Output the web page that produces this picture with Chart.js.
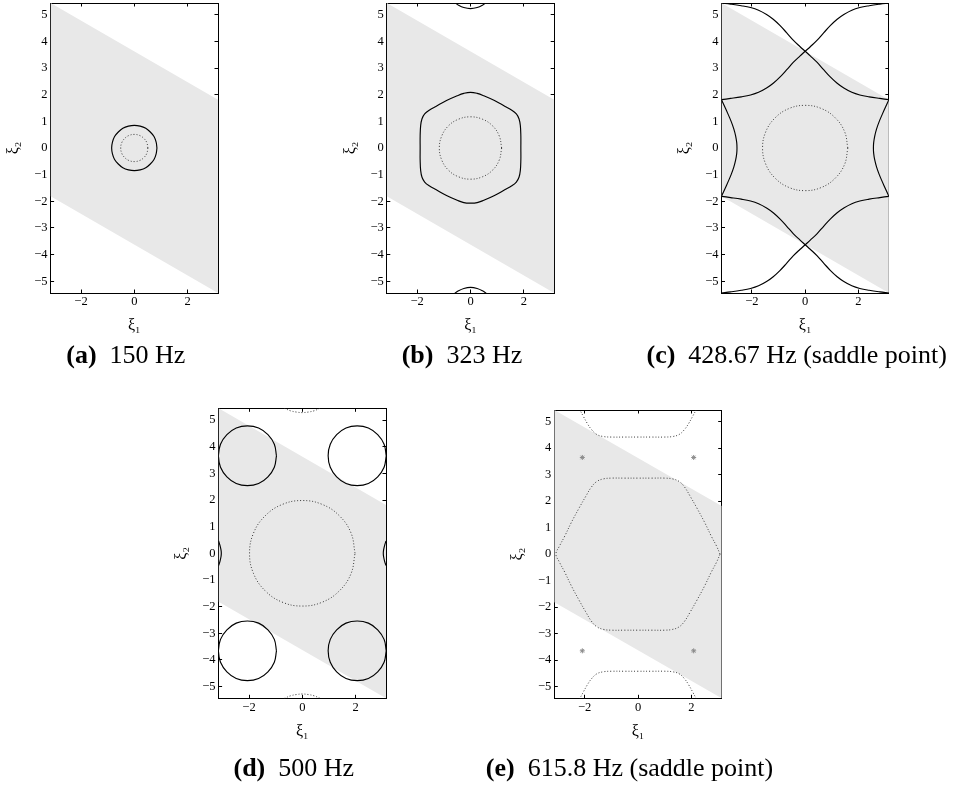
<!DOCTYPE html>
<html>
<head>
<meta charset="utf-8">
<script src="https://cdn.jsdelivr.net/npm/chart.js@4.4.0/dist/chart.umd.min.js"></script>
<style>
  html, body { margin: 0; padding: 0; background: #fff; }
  body { width: 958px; height: 790px; overflow: hidden; position: relative;
         font-family: "Liberation Serif", "Times New Roman", serif; }
  canvas { position: absolute; }
  .cap { position: absolute; font-size: 26px; line-height: 26px; white-space: nowrap;
         transform: translateX(-50%); color: #000; }
  .cap .lab { font-weight: bold; margin-right: 0.5em; }
</style>
</head>
<body>
<script>
// ---- axes (wavenumber domain) ----
const xRange = [-3.1416, 3.1416];
const yRange = [-5.4414, 5.4414];
const xTicks = [-2, 0, 2];
const yTicks = [-5, -4, -3, -2, -1, 0, 1, 2, 3, 4, 5];

// shaded unit cell (parallelogram)
const band = [[-3.1416, -1.8138], [-3.1416, 5.4414], [3.1416, 1.8138], [3.1416, -5.4414]];

// ---- (a) 150 Hz ----
const aSolid = [[0.85,0],[0.82,0.22],[0.74,0.43],[0.6,0.6],[0.43,0.74],[0.22,0.82],[0,0.85],[-0.22,0.82],[-0.43,0.74],[-0.6,0.6],[-0.74,0.43],[-0.82,0.22],[-0.85,0],[-0.82,-0.22],[-0.74,-0.43],[-0.6,-0.6],[-0.43,-0.74],[-0.22,-0.82],[0,-0.85],[0.22,-0.82],[0.43,-0.74],[0.6,-0.6],[0.74,-0.43],[0.82,-0.22],[0.85,0]];
const aDotted = [[0.51,0],[0.47,0.2],[0.36,0.36],[0.2,0.47],[0,0.51],[-0.2,0.47],[-0.36,0.36],[-0.47,0.2],[-0.51,0],[-0.47,-0.2],[-0.36,-0.36],[-0.2,-0.47],[0,-0.51],[0.2,-0.47],[0.36,-0.36],[0.47,-0.2],[0.51,0]];

// ---- (b) 323 Hz ----
const bHex = [[1.89,0],[1.89,0.45],[1.87,0.85],[1.82,1.1],[1.72,1.28],[1.55,1.42],[1.3,1.56],[0.9,1.78],[0.5,1.96],[0.25,2.05],[0,2.09],
  [-0.25,2.05],[-0.5,1.96],[-0.9,1.78],[-1.3,1.56],[-1.55,1.42],[-1.72,1.28],[-1.82,1.1],[-1.87,0.85],[-1.89,0.45],[-1.89,0],
  [-1.89,-0.45],[-1.87,-0.85],[-1.82,-1.1],[-1.72,-1.28],[-1.55,-1.42],[-1.3,-1.56],[-0.9,-1.78],[-0.5,-1.96],[-0.25,-2.05],[0,-2.07],
  [0.25,-2.05],[0.5,-1.96],[0.9,-1.78],[1.3,-1.56],[1.55,-1.42],[1.72,-1.28],[1.82,-1.1],[1.87,-0.85],[1.89,-0.45],[1.89,0]];
const bTopArc = [[-0.66,5.5],[-0.45,5.36],[-0.25,5.27],[0,5.23],[0.25,5.27],[0.45,5.36],[0.66,5.5]];
const bBottomArc = [[-0.66,-5.5],[-0.45,-5.36],[-0.25,-5.27],[0,-5.23],[0.25,-5.27],[0.45,-5.36],[0.66,-5.5]];
const bDotted = [[1.17,0],[1.08,0.45],[0.83,0.83],[0.45,1.08],[0,1.17],[-0.45,1.08],[-0.83,0.83],[-1.08,0.45],[-1.17,0],[-1.08,-0.45],[-0.83,-0.83],[-0.45,-1.08],[0,-1.17],[0.45,-1.08],[0.83,-0.83],[1.08,-0.45],[1.17,0]];

// ---- (c) 428.67 Hz, saddle point ----
const cUpperA = [[-3.1416,5.4414],[-2.8,5.4],[-2.4,5.34],[-2.05,5.27],[-1.75,5.17],[-1.45,5.01],[-1.2,4.83],[-0.95,4.6],[-0.7,4.33],[-0.45,4.05],[-0.2,3.81],[0,3.63],[0.2,3.45],[0.45,3.21],[0.7,2.93],[0.95,2.66],[1.2,2.43],[1.45,2.25],[1.75,2.09],[2.05,1.99],[2.4,1.92],[2.8,1.86],[3.1416,1.8138]];
const cUpperB = [[3.1416,5.4414],[2.8,5.4],[2.4,5.34],[2.05,5.27],[1.75,5.17],[1.45,5.01],[1.2,4.83],[0.95,4.6],[0.7,4.33],[0.45,4.05],[0.2,3.81],[0,3.63],[-0.2,3.45],[-0.45,3.21],[-0.7,2.93],[-0.95,2.66],[-1.2,2.43],[-1.45,2.25],[-1.75,2.09],[-2.05,1.99],[-2.4,1.92],[-2.8,1.86],[-3.1416,1.8138]];
const cLowerA = [[-3.1416,-5.4414],[-2.8,-5.4],[-2.4,-5.34],[-2.05,-5.27],[-1.75,-5.17],[-1.45,-5.01],[-1.2,-4.83],[-0.95,-4.6],[-0.7,-4.33],[-0.45,-4.05],[-0.2,-3.81],[0,-3.63],[0.2,-3.45],[0.45,-3.21],[0.7,-2.93],[0.95,-2.66],[1.2,-2.43],[1.45,-2.25],[1.75,-2.09],[2.05,-1.99],[2.4,-1.92],[2.8,-1.86],[3.1416,-1.8138]];
const cLowerB = [[3.1416,-5.4414],[2.8,-5.4],[2.4,-5.34],[2.05,-5.27],[1.75,-5.17],[1.45,-5.01],[1.2,-4.83],[0.95,-4.6],[0.7,-4.33],[0.45,-4.05],[0.2,-3.81],[0,-3.63],[-0.2,-3.45],[-0.45,-3.21],[-0.7,-2.93],[-0.95,-2.66],[-1.2,-2.43],[-1.45,-2.25],[-1.75,-2.09],[-2.05,-1.99],[-2.4,-1.92],[-2.8,-1.86],[-3.1416,-1.8138]];
const cLeftSide = [[-3.1416,1.8138],[-3.02,1.55],[-2.9,1.28],[-2.78,1.0],[-2.68,0.72],[-2.61,0.45],[-2.57,0.2],[-2.56,0],[-2.57,-0.2],[-2.61,-0.45],[-2.68,-0.72],[-2.78,-1.0],[-2.9,-1.28],[-3.02,-1.55],[-3.1416,-1.8138]];
const cRightSide = [[3.1416,1.8138],[3.02,1.55],[2.9,1.28],[2.78,1.0],[2.68,0.72],[2.61,0.45],[2.57,0.2],[2.56,0],[2.57,-0.2],[2.61,-0.45],[2.68,-0.72],[2.78,-1.0],[2.9,-1.28],[3.02,-1.55],[3.1416,-1.8138]];
const cDotted = [[1.6,0],[1.48,0.61],[1.13,1.13],[0.61,1.48],[0,1.6],[-0.61,1.48],[-1.13,1.13],[-1.48,0.61],[-1.6,0],[-1.48,-0.61],[-1.13,-1.13],[-0.61,-1.48],[0,-1.6],[0.61,-1.48],[1.13,-1.13],[1.48,-0.61],[1.6,0]];

// ---- (d) 500 Hz ----
const dUpLeft = [[-0.97,3.66],[-1.05,4.09],[-1.29,4.45],[-1.64,4.7],[-2.06,4.78],[-2.48,4.7],[-2.83,4.45],[-3.07,4.09],[-3.15,3.66],[-3.07,3.23],[-2.83,2.87],[-2.48,2.62],[-2.06,2.54],[-1.64,2.62],[-1.29,2.87],[-1.05,3.23],[-0.97,3.66]];
const dUpRight = [[3.15,3.66],[3.07,4.09],[2.83,4.45],[2.48,4.7],[2.06,4.78],[1.64,4.7],[1.29,4.45],[1.05,4.09],[0.97,3.66],[1.05,3.23],[1.29,2.87],[1.64,2.62],[2.06,2.54],[2.48,2.62],[2.83,2.87],[3.07,3.23],[3.15,3.66]];
const dLowLeft = [[-0.97,-3.66],[-1.05,-4.09],[-1.29,-4.45],[-1.64,-4.7],[-2.06,-4.78],[-2.48,-4.7],[-2.83,-4.45],[-3.07,-4.09],[-3.15,-3.66],[-3.07,-3.23],[-2.83,-2.87],[-2.48,-2.62],[-2.06,-2.54],[-1.64,-2.62],[-1.29,-2.87],[-1.05,-3.23],[-0.97,-3.66]];
const dLowRight = [[3.15,-3.66],[3.07,-4.09],[2.83,-4.45],[2.48,-4.7],[2.06,-4.78],[1.64,-4.7],[1.29,-4.45],[1.05,-4.09],[0.97,-3.66],[1.05,-3.23],[1.29,-2.87],[1.64,-2.62],[2.06,-2.54],[2.48,-2.62],[2.83,-2.87],[3.07,-3.23],[3.15,-3.66]];
const dLeftArc = [[-3.1416,0.46],[-3.09,0.3],[-3.05,0.12],[-3.04,0],[-3.05,-0.12],[-3.09,-0.3],[-3.1416,-0.46]];
const dRightArc = [[3.1416,0.46],[3.09,0.3],[3.05,0.12],[3.04,0],[3.05,-0.12],[3.09,-0.3],[3.1416,-0.46]];
const dDotted = [[1.98,0],[1.83,0.76],[1.4,1.4],[0.76,1.83],[0,1.98],[-0.76,1.83],[-1.4,1.4],[-1.83,0.76],[-1.98,0],[-1.83,-0.76],[-1.4,-1.4],[-0.76,-1.83],[0,-1.98],[0.76,-1.83],[1.4,-1.4],[1.83,-0.76],[1.98,0]];
const dTopDotted = [[-0.68,5.45],[-0.45,5.35],[-0.22,5.3],[0,5.28],[0.22,5.3],[0.45,5.35],[0.68,5.45]];
const dBottomDotted = [[-0.68,-5.45],[-0.45,-5.35],[-0.22,-5.3],[0,-5.28],[0.22,-5.3],[0.45,-5.35],[0.68,-5.45]];

// ---- (e) 615.8 Hz, saddle point ----
const eHex = [[3.08,0],[2.95,0.3],[2.75,0.68],[2.5,1.2],[2.2,1.76],[1.95,2.2],[1.75,2.53],[1.55,2.74],[1.3,2.84],[1.0,2.87],[0.5,2.87],[0,2.87],
  [-0.5,2.87],[-1.0,2.87],[-1.3,2.84],[-1.55,2.74],[-1.75,2.53],[-1.95,2.2],[-2.2,1.76],[-2.5,1.2],[-2.75,0.68],[-2.95,0.3],[-3.08,0],
  [-2.95,-0.3],[-2.75,-0.68],[-2.5,-1.2],[-2.2,-1.76],[-1.95,-2.2],[-1.75,-2.53],[-1.55,-2.74],[-1.3,-2.84],[-1.0,-2.87],[-0.5,-2.87],[0,-2.87],
  [0.5,-2.87],[1.0,-2.87],[1.3,-2.84],[1.55,-2.74],[1.75,-2.53],[1.95,-2.2],[2.2,-1.76],[2.5,-1.2],[2.75,-0.68],[2.95,-0.3],[3.08,0]];
const eTopArc = [[-2.2,5.48],[-2.05,5.2],[-1.9,4.93],[-1.75,4.71],[-1.55,4.52],[-1.3,4.44],[-1.0,4.42],[-0.5,4.42],[0,4.42],[0.5,4.42],[1.0,4.42],[1.3,4.44],[1.55,4.52],[1.75,4.71],[1.9,4.93],[2.05,5.2],[2.2,5.48]];
const eBottomArc = [[-2.2,-5.48],[-2.05,-5.2],[-1.9,-4.93],[-1.75,-4.71],[-1.55,-4.52],[-1.3,-4.44],[-1.0,-4.42],[-0.5,-4.42],[0,-4.42],[0.5,-4.42],[1.0,-4.42],[1.3,-4.44],[1.55,-4.52],[1.75,-4.71],[1.9,-4.93],[2.05,-5.2],[2.2,-5.48]];
const eMarks = [[-2.09,3.65],[2.09,3.65],[-2.09,-3.65],[2.09,-3.65]];

// ---- captions ----
const captionLabels = ['(a)', '(b)', '(c)', '(d)', '(e)'];
const captionTexts = ['150 Hz', '323 Hz', '428.67 Hz (saddle point)', '500 Hz', '615.8 Hz (saddle point)'];

// ---- panel contents ----
const panels = [
  { solid: [aSolid], dotted: [aDotted] },
  { solid: [bHex, bTopArc, bBottomArc], dotted: [bDotted] },
  { solid: [cUpperA, cUpperB, cLowerA, cLowerB, cLeftSide, cRightSide], dotted: [cDotted] },
  { solid: [dUpLeft, dUpRight, dLowLeft, dLowRight, dLeftArc, dRightArc], dotted: [dDotted, dTopDotted, dBottomDotted] },
  { solid: [], dotted: [eHex, eTopArc, eBottomArc], marks: eMarks }
];

// plot-area frames on the page (px)
const frames = [
  { l: 50.6,  r: 218.0, t: 3.0,   b: 293.0, capY: 355 },
  { l: 386.8, r: 554.2, t: 3.0,   b: 293.0, capY: 355 },
  { l: 721.5, r: 888.9, t: 3.0,   b: 293.0, capY: 355 },
  { l: 218.6, r: 386.0, t: 408.3, b: 698.3, capY: 768 },
  { l: 554.3, r: 721.7, t: 408.3, b: 698.3, capY: 768 }
];

Chart.defaults.font.family = '"Liberation Serif", "Times New Roman", serif';
Chart.defaults.color = '#000';

const setTicks = values => scale => { scale.ticks = values.map(v => ({ value: v })); };
const minusSign = v => String(v).replace('-', '\u2212');

function buildPanel(p, f, i) {
  const W = 240, H = 360, xH = 45;
  const tickFont = 12.5, labelFont = 16, labelHalf = labelFont * 1.2 / 2;
  const cl = Math.floor(f.l) - 50, ct = Math.floor(f.t) - 3;
  const cv = document.createElement('canvas');
  cv.width = W; cv.height = H;
  Object.assign(cv.style, { left: cl + 'px', top: ct + 'px', width: W + 'px', height: H + 'px' });
  document.body.appendChild(cv);

  const yW = f.l - cl;
  const pad = { left: 0, top: f.t - ct, right: W - (f.r - cl), bottom: H - (f.b - ct) - xH };

  const tickMarks = { display: true, drawOnChartArea: false, drawTicks: true, tickLength: -3.5, color: '#000', lineWidth: 1 };
  const frameLine = { display: true, color: '#000', width: 1 };

  const datasets = [];
  p.solid.forEach(d => datasets.push({ data: d, borderColor: '#000', borderWidth: 1.15, pointRadius: 0, tension: 0.4, fill: false, order: 1 }));
  p.dotted.forEach(d => datasets.push({ data: d, borderColor: '#3a3a3a', borderWidth: 1, borderDash: [1, 2], pointRadius: 0, tension: 0.4, fill: false, order: 1 }));
  if (p.marks) datasets.push({ data: p.marks, showLine: false, pointStyle: 'star', pointRadius: 2.5, pointBorderColor: '#8a8a8a', pointBackgroundColor: '#8a8a8a', pointBorderWidth: 1, order: 0 });
  datasets.push({ data: band, borderWidth: 0, borderColor: 'rgba(0,0,0,0)', backgroundColor: '#e8e8e8', fill: 'shape', pointRadius: 0, tension: 0, order: 5 });

  new Chart(cv, {
    type: 'line',
    data: { datasets },
    options: {
      responsive: false, animation: false, devicePixelRatio: 1, events: [],
      layout: { padding: pad },
      plugins: { legend: { display: false }, tooltip: { enabled: false } },
      scales: {
        x: {
          type: 'linear', position: 'bottom', min: xRange[0], max: xRange[1],
          grid: tickMarks, border: frameLine, afterBuildTicks: setTicks(xTicks),
          ticks: { padding: 5, font: { size: tickFont }, callback: minusSign, maxRotation: 0, autoSkip: false },
          title: { display: true, text: 'ξ₁', font: { size: labelFont }, padding: { top: 0, bottom: xH - 33 - labelHalf } },
          afterFit: s => { s.height = xH; s.paddingLeft = 0; s.paddingRight = 0; }
        },
        x2: {
          type: 'linear', position: 'top', min: xRange[0], max: xRange[1], display: true,
          grid: tickMarks, border: frameLine, afterBuildTicks: setTicks(xTicks),
          ticks: { display: false },
          afterFit: s => { s.height = 0; s.paddingLeft = 0; s.paddingRight = 0; }
        },
        y: {
          type: 'linear', position: 'left', min: yRange[0], max: yRange[1],
          grid: tickMarks, border: frameLine, afterBuildTicks: setTicks(yTicks),
          ticks: { padding: 6.5, font: { size: tickFont }, callback: minusSign, autoSkip: false },
          title: { display: true, text: 'ξ₂', font: { size: labelFont }, padding: { top: yW - 36.5 - labelHalf, bottom: 0 } },
          afterFit: s => { s.width = yW; s.paddingTop = 0; s.paddingBottom = 0; }
        },
        y2: {
          type: 'linear', position: 'right', min: yRange[0], max: yRange[1], display: true,
          grid: tickMarks, border: frameLine, afterBuildTicks: setTicks(yTicks),
          ticks: { display: false },
          afterFit: s => { s.width = 0; s.paddingTop = 0; s.paddingBottom = 0; }
        }
      }
    }
  });

  const cap = document.createElement('div');
  cap.className = 'cap';
  const lab = document.createElement('span');
  lab.className = 'lab';
  lab.textContent = captionLabels[i];
  const txt = document.createElement('span');
  txt.textContent = captionTexts[i];
  cap.appendChild(lab); cap.appendChild(txt);
  cap.style.left = ((f.l + f.r) / 2 - 8.5) + 'px';
  cap.style.top = (f.capY - 13) + 'px';
  document.body.appendChild(cap);
}

panels.forEach((p, i) => buildPanel(p, frames[i], i));
</script>
</body>
</html>
